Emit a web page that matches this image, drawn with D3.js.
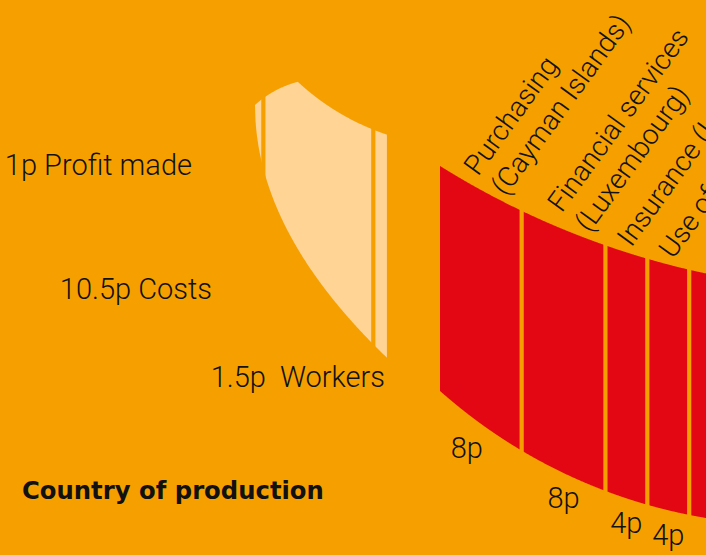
<!DOCTYPE html>
<html>
<head>
<meta charset="utf-8">
<script src="https://cdn.jsdelivr.net/npm/d3@7"></script>
<style>
    html, body { margin: 0; padding: 0; background: #F5A000; overflow: hidden; }
    svg { display: block; }
    text { font-family: Roboto, "Liberation Sans", sans-serif; font-weight: 300; fill: #111; white-space: pre; }
</style>
</head>
<body>
<div id="chartContainer"></div>
<script>
// where the money goes, in pence
const sourceNames = ["Profit made", "Costs", " Workers"];
const sourceValues = [1, 10.5, 1.5];

const flowNames = [
    ["Purchasing", "(Cayman Islands)"],
    ["Financial services", "(Luxembourg)"],
    ["Insurance (Isle of Man)"],
    ["Use of brand (Netherlands)"],
    [""]
];
const flowValues = [8, 8, 4, 4, 6];

const titleText = "Country of production";

function createChart() {
    const width = 706;
    const height = 555;

    const BG = "#F5A000";
    const RED = "#E30613";
    const LIGHT = "#FFD494";
    const INK = "#111";

    const pxPerPenny = 10.47;
    const gap = 4.2;
    const fontSize = 29;
    const nameSize = 28;
    const lineHeight = 34;
    const labelAngle = -54;

    const svg = d3.select("#chartContainer").append("svg")
        .attr("width", width)
        .attr("height", height)
        .style("background-color", BG);

    const defs = svg.append("defs");

    // a circle edge: upper (sign -1) or lower (sign 1) half
    const circleEdge = (cx, cy, r, sign) =>
        x => cy + sign * Math.sqrt(Math.max(0, r * r - (x - cx) * (x - cx)));

    // stacked offsets
    const stack = values => {
        const ends = Array.from(d3.cumsum(values));
        return values.map((v, i) => ({ value: v, i, c0: ends[i] - v, c1: ends[i] }));
    };

    // ---- light band (country of production) ----
    const lightStart = 255;
    const xLight = d3.scaleLinear()
        .domain([0, d3.sum(sourceValues)])
        .range([lightStart, lightStart + pxPerPenny * d3.sum(sourceValues)]);

    const lightPeak = 298.3;
    const lightTopA = circleEdge(323.7, 180.8, 102.3, -1);
    const lightTopB = circleEdge(463.8, -96.6, 243.7, 1);
    const lightTop = x => x < lightPeak ? lightTopA(x) : lightTopB(x);
    const lightBottom = x => 105 + 22 * Math.sqrt(Math.max(0, x - lightStart));

    const lightEnd = xLight.range()[1];
    const lightXs = d3.range(lightStart, lightEnd, 0.5).concat([lightEnd]);
    defs.append("clipPath").attr("id", "clipLight")
        .append("path")
        .attr("d", d3.area().x(d => d).y0(lightTop).y1(lightBottom)(lightXs));

    const lightSegs = stack(sourceValues);
    svg.append("g")
        .attr("clip-path", "url(#clipLight)")
        .selectAll("rect")
        .data(lightSegs)
        .enter()
        .append("rect")
        .attr("x", d => xLight(d.c0))
        .attr("width", d => xLight(d.c1) - xLight(d.c0) - gap)
        .attr("y", 0)
        .attr("height", height)
        .attr("fill", LIGHT);

    // labels of the light band
    const sourceLabelPos = [[192, 175], [212, 299], [385, 387]];
    svg.append("g")
        .selectAll("text")
        .data(lightSegs)
        .enter()
        .append("text")
        .attr("x", d => sourceLabelPos[d.i][0])
        .attr("y", d => sourceLabelPos[d.i][1])
        .attr("text-anchor", "end")
        .style("font-size", fontSize + "px")
        .style("fill", INK)
        .text(d => `${d.value}p ${sourceNames[d.i]}`);

    // ---- red band (where the money is booked) ----
    const redStart = 440;
    const xRed = d3.scaleLinear()
        .domain([0, d3.sum(flowValues)])
        .range([redStart, redStart + pxPerPenny * d3.sum(flowValues)]);

    const redTop = circleEdge(877.5, -533.6, 825.1, 1);
    const redBottom = circleEdge(793.5, -7.3, 532.5, 1);

    const redEnd = xRed.range()[1];
    const redXs = d3.range(redStart, redEnd, 0.5).concat([redEnd]);
    defs.append("clipPath").attr("id", "clipRed")
        .append("path")
        .attr("d", d3.area().x(d => d).y0(redTop).y1(redBottom)(redXs));

    const redSegs = stack(flowValues);
    svg.append("g")
        .attr("clip-path", "url(#clipRed)")
        .selectAll("rect")
        .data(redSegs)
        .enter()
        .append("rect")
        .attr("x", d => xRed(d.c0))
        .attr("width", d => xRed(d.c1) - xRed(d.c0) - gap)
        .attr("y", 0)
        .attr("height", height)
        .attr("fill", RED);

    // value labels under each segment
    const segMid = d => (xRed(d.c0) + xRed(d.c1) - gap) / 2;
    svg.append("g")
        .selectAll("text")
        .data(redSegs)
        .enter()
        .append("text")
        .attr("x", d => segMid(d) - (d.i === 0 ? 13 : 0))
        .attr("y", d => redBottom(segMid(d)) + 35)
        .attr("text-anchor", "middle")
        .style("font-size", fontSize + "px")
        .style("fill", INK)
        .text(d => `${d.value}p`);

    // slanted names above each segment
    const anchorX = d => xRed(d.c1) - gap - 14;
    const names = svg.append("g")
        .selectAll("text")
        .data(redSegs)
        .enter()
        .append("text")
        .attr("transform", d => `translate(${anchorX(d)},${redTop(anchorX(d)) - 6}) rotate(${labelAngle})`)
        .style("font-size", nameSize + "px")
        .style("fill", INK);

    names.selectAll("tspan")
        .data(d => flowNames[d.i].map((t, j, arr) => ({ t, dy: (j - (arr.length - 1)) * lineHeight })))
        .enter()
        .append("tspan")
        .attr("x", 0)
        .attr("y", d => d.dy)
        .text(d => d.t);

    // title
    svg.append("text")
        .attr("x", 22)
        .attr("y", 499)
        .style("font-family", "'DejaVu Sans', sans-serif")
        .style("font-weight", "700")
        .style("font-size", "24.3px")
        .style("fill", INK)
        .text(titleText);
}

createChart();
</script>
</body>
</html>
